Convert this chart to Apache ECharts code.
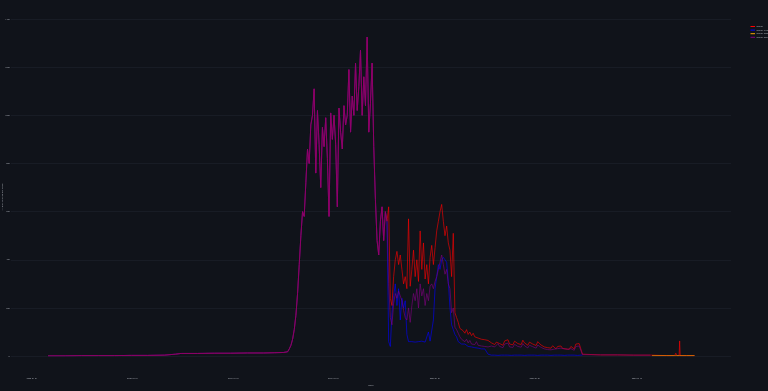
<!DOCTYPE html>
<html>
<head>
<meta charset="utf-8">
<script src="https://cdn.jsdelivr.net/npm/echarts@6/dist/echarts.min.js"></script>
<style>html,body{margin:0;padding:0;background:#10131a;}#c{width:768px;height:391px;}</style>
</head>
<body>
<div id="c"></div>
<script>
// ---- data ----
const seriesNames = ['Overall', 'Overall Primary', 'Overall Resales', 'Overall Other'];
const tickDays = [0, 182, 365, 546, 730, 911, 1096];
const tickLabels = ['2020-01-01', '2020-07-01', '2021-01-01', '2021-07-01', '2022-01-01', '2022-07-01', '2023-01-01'];
const yTicks = [0, 200, 400, 600, 800, 1000, 1200, 1400];

// early quiet period (shared by all series)
const earlyDays = [29, 60, 90, 120, 150, 180, 210, 240, 260, 270, 300, 330, 360, 390, 420, 440, 455];
const earlyShared = [1, 1, 2, 2, 2, 3, 3, 4, 8, 11, 11, 12, 12, 13, 13, 14, 15];

// active period: every 3 days from day 463
const activeStart = 463;
const activeStep = 3;
const sharedActive = [18,30,45,70,110,170,260,380,500,600,580,720,860,800,960,1000,1110,760,1020,880,700,950,870,990,820,580,1010,900,1000,880,620,1030,930,860,1040,960,1000,1190,930,1080,1000,1217,1020,1120,1271,1000,1160,1040,1325,930,1050,1217,870,650,480,420,560,620,480,600,560];
const overallTail = [620,240,210,330,400,435,380,420,360,300,330,280,570,290,360,440,330,400,310,520,360,470,320,380,300,410,460,380,450,520,560,600,630,560,500,540,470,440,330,510,180,160,140,115,120,105,95,110,90,100,85,95,80,88,75,82,70,78,68,72,65,60,
  55,62,48,58,66,52,60,45,63,55,68,50,58,47,62,70,52,60,48,66,55,62,45,58,64,50,57,44,60,52,46,
  42,38,45,35,40,33,43,37,30,40,35,42,32,38,30,36,28,40,34,30,50,58,52,48,8];
const primaryTail = [60,40,180,250,300,210,280,150,240,200,230,90,60,55,60,55,58,52,60,56,62,55,58,60,100,62,70,150,280,330,380,360,400,410,400,390,310,200,130,110,90,80,60,55,50,45,50,45,40,45,38,42,35,40,33,38,30,35,30,28,8,5,
  4,3,4,4,3,4,4,4,4,3,4,4,3,4,4,4,4,3,4,4,3,4,4,4,4,3,4,4,3,4,4,4,4,3,4,4,3,4,4,4,4,3,4,4,3,4,4,4,4,3,4,4,3,4,4,4];
const otherTail = [300,160,130,220,260,240,270,250,230,190,160,150,200,140,210,260,230,280,200,300,250,280,210,260,230,290,300,280,310,330,360,390,420,380,340,360,300,280,180,200,120,110,95,80,70,65,60,70,55,65,50,55,48,60,45,50,42,50,40,45,38,40,
  42,48,38,45,52,40,47,35,50,43,54,38,46,36,49,55,40,47,37,52,43,48,34,45,50,39,44,33,46,40,36,
  33,30,36,27,32,26,34,29,24,31,27,33,25,30,23,28,22,31,26,24,40,46,42,38,6];

// late period
const lateDays = [1000, 1030, 1060, 1090, 1120, 1123, 1150, 1164, 1166, 1168, 1172, 1173, 1174, 1185, 1200];
const lateOverall = [5, 5, 5, 4, 4, 2, 2, 2, 12, 2, 2, 63, 2, 2, 2];
const lateOtherDays = [1000, 1030, 1060, 1090, 1120];
const lateOther = [5, 5, 5, 4, 4];
const resalesDays = [1123, 1150, 1164, 1166, 1168, 1185, 1200];
const resalesValues = [2, 2, 2, 5, 2, 2, 2];

// ---- build ----
function pairs(days, vals) { return days.map((d, i) => [d, vals[i]]); }
const nActive = sharedActive.length + overallTail.length;
const activeDays = [];
for (let i = 0; i < nActive; i++) activeDays.push(activeStart + i * activeStep);
const tailDays = activeDays.slice(sharedActive.length);
const sharedDaysAll = earlyDays.concat(activeDays.slice(0, sharedActive.length));
const sharedValsAll = earlyShared.concat(sharedActive);

const overallData = pairs(sharedDaysAll, sharedValsAll).concat(pairs(tailDays, overallTail), pairs(lateDays, lateOverall));
const primaryData = pairs(sharedDaysAll, sharedValsAll).concat(pairs(tailDays, primaryTail));
const resalesData = pairs(resalesDays, resalesValues);
const otherData = pairs(sharedDaysAll, sharedValsAll).concat(pairs(tailDays, otherTail), pairs(lateOtherDays, lateOther));

const FONT = 'Open Sans';
const TXT = '#aeb2ba';
const chart = echarts.init(document.getElementById('c'));
function line(name, data, color, z) {
  return { name, type: 'line', data, showSymbol: false, symbol: 'none', z,
    lineStyle: { color, width: 1, opacity: 0.62 }, itemStyle: { color }, emphasis: { disabled: true } };
}
chart.setOption({
  backgroundColor: '#10131a',
  animation: false,
  grid: { left: 11, right: 37, top: 19, bottom: 34, containLabel: false },
  legend: {
    orient: 'vertical', left: 745.5, top: 20.5, itemWidth: 4.5, itemHeight: 1, itemGap: 1.6,
    icon: 'rect', data: seriesNames,
    textStyle: { color: TXT, fontSize: 2, fontFamily: FONT, padding: [0, 0, 0, -3.5], lineHeight: 2 }
  },
  xAxis: {
    type: 'value', min: -38, max: 1266,
    name: 'Date', nameLocation: 'middle', nameGap: 27,
    nameTextStyle: { color: TXT, fontSize: 2.4, fontFamily: FONT },
    axisLine: { show: false }, axisTick: { show: false }, splitLine: { show: false },
    axisLabel: { customValues: tickDays, color: TXT, fontSize: 2.1, fontFamily: FONT, margin: 21,
      formatter: v => { const k = tickDays.indexOf(v); return k >= 0 ? tickLabels[k] : ''; } }
  },
  yAxis: {
    type: 'value', min: yTicks[0], max: yTicks[yTicks.length - 1], interval: yTicks[1] - yTicks[0],
    axisLine: { show: false }, axisTick: { show: false },
    splitLine: { show: true, lineStyle: { color: '#181c25', width: 1 } },
    axisLabel: { color: TXT, fontSize: 2.1, fontFamily: FONT, margin: 1.2, formatter: v => String(v) }
  },
  graphic: [{ type: 'text', x: 2.2, y: 197, rotation: Math.PI / 2,
    style: { text: 'Number of active addresses', fontSize: 2.1, fontFamily: FONT, fill: TXT, align: 'center', verticalAlign: 'middle' } }],
  series: [
    line(seriesNames[0], overallData, '#ff0000', 3),
    line(seriesNames[1], primaryData, '#0000ff', 2),
    line(seriesNames[2], resalesData, '#ffa500', 4),
    line(seriesNames[3], otherData, '#800080', 5)
  ]
});
</script>
</body>
</html>
